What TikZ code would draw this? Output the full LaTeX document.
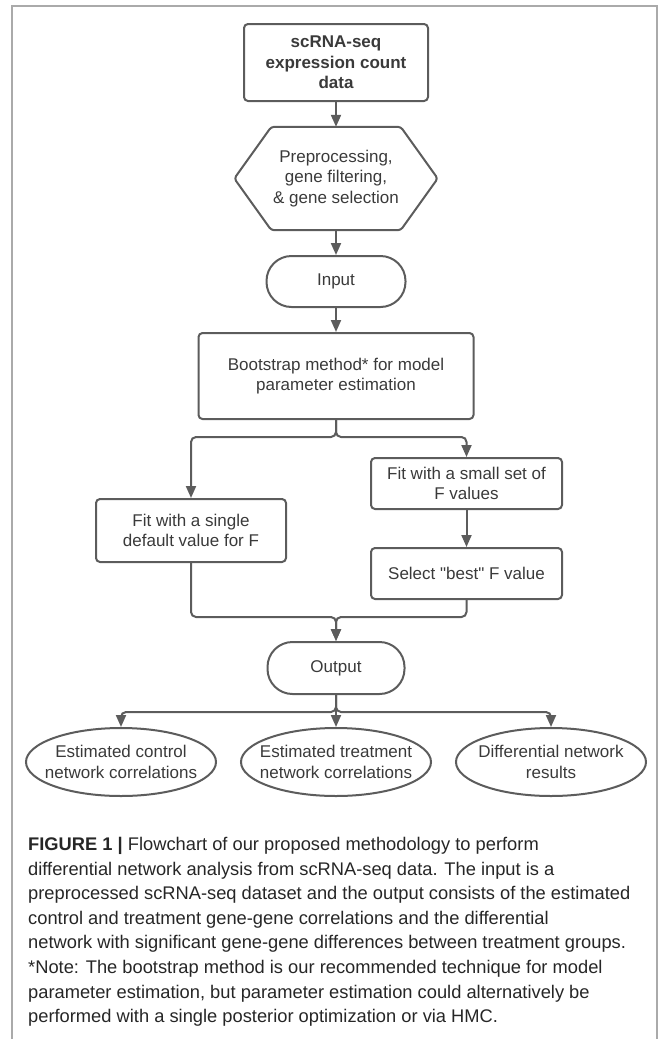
\documentclass[tikz,border=0pt]{standalone}
\usepackage{fontspec}
\setmainfont{Liberation Sans}
\usepackage{tikz}
\usetikzlibrary{arrows.meta,positioning,shapes.geometric}
\definecolor{linegray}{RGB}{92,92,92}
\definecolor{textgray}{RGB}{58,58,58}
\definecolor{framegray}{RGB}{170,170,170}

\begin{document}
\begin{tikzpicture}[x=1pt, y=-1pt, font=\fontsize{17}{20.5}\selectfont,
    box/.style={draw=linegray, line width=2pt, rounded corners=4pt, inner sep=0pt, align=center, text=textgray},
    term/.style={draw=linegray, line width=2pt, rounded corners=25pt, inner sep=0pt, align=center, text=textgray},
    result/.style={draw=linegray, line width=2pt, ellipse, inner sep=0pt, minimum width=190pt, minimum height=68pt},
    flow/.style={draw=linegray, line width=2pt, rounded corners=5pt, -{Triangle[length=12pt,width=10pt]}}]
        \useasboundingbox (0,0) rectangle (662,1039);
        % Frame
        \draw[draw=framegray, line width=1.8pt] (12,1039) -- (12,6) -- (657,6) -- (657,1039);

        % Data and preprocessing
        \node[box, minimum width=184pt, minimum height=77pt, font=\fontsize{17}{20.5}\selectfont\bfseries] (data) at (336,62.5) {scRNA-seq\\expression count\\data};
        \node[inner sep=0pt, minimum width=203pt, minimum height=103pt, align=center, text=textgray] (prep) at (336,178.5) {Preprocessing,\\gene filtering,\\\& gene selection};
        \draw[draw=linegray, line width=2pt, rounded corners=3pt] (prep.west) -- ([xshift=37pt]prep.north west) -- ([xshift=-37pt]prep.north east) -- (prep.east) -- ([xshift=-37pt]prep.south east) -- ([xshift=37pt]prep.south west) -- cycle;
        \node[term, minimum width=139pt, minimum height=51pt] (input) at (336,281.5) {Input};

        % Estimation
        \node[box, minimum width=275pt, minimum height=86pt] (boot) at (336,376) {Bootstrap method* for model\\parameter estimation};
        \node[box, minimum width=190pt, minimum height=63pt] (single) at (191,530.5) {Fit with a single\\default value for F};
        \node[box, minimum width=191pt, minimum height=51pt] (grid) at (466.5,483.5) {Fit with a small set of\\F values};
        \node[box, minimum width=191pt, minimum height=51pt] (best) at (466.5,573.5) {Select \textquotedbl best\textquotedbl{} F value};

        % Results
        \node[term, minimum width=137pt, minimum height=52pt] (output) at (336,668) {Output};
        \node[result, label={[align=center, text=textgray]center:Estimated control\\network correlations}] (ctrl) at (121,762) {};
        \node[result, label={[align=center, text=textgray]center:Estimated treatment\\network correlations}] (treat) at (336,762) {};
        \node[result, label={[align=center, text=textgray]center:Differential network\\results}] (diff) at (551,762) {};

        % Connections
        \coordinate (split) at (336,437);
        \coordinate (merge) at (336,617);
        \coordinate (fan) at (336,712);
        \draw[flow] (data) -- (prep);
        \draw[flow] (prep) -- (input);
        \draw[flow] (input) -- (boot);
        \draw[flow] (boot.south) -- (split) -| (single.north);
        \draw[flow] (boot.south) -- (split) -| (grid.north);
        \draw[flow] (grid) -- (best);
        \draw[flow] (single.south) |- (merge) -- (output.north);
        \draw[flow] (best.south) |- (merge) -- (output.north);
        \draw[flow] (output.south) -- (fan) -| (ctrl.north);
        \draw[flow] (output) -- (treat);
        \draw[flow] (output.south) -- (fan) -| (diff.north);

        % Caption
        \node[anchor=north west, inner sep=0pt, align=left, text=black!85, font=\fontsize{18.3}{24.6}\selectfont] (caption) at (28,837) {\textbf{FIGURE 1 |} Flowchart of our proposed methodology to perform\\differential network analysis from scRNA-seq data. The input is a\\preprocessed scRNA-seq dataset and the output consists of the estimated\\control and treatment gene-gene correlations and the differential\\network with significant gene-gene differences between treatment groups.\\*Note: The bootstrap method is our recommended technique for model\\parameter estimation, but parameter estimation could alternatively be\\performed with a single posterior optimization or via HMC.};
    \end{tikzpicture}
\end{document}
